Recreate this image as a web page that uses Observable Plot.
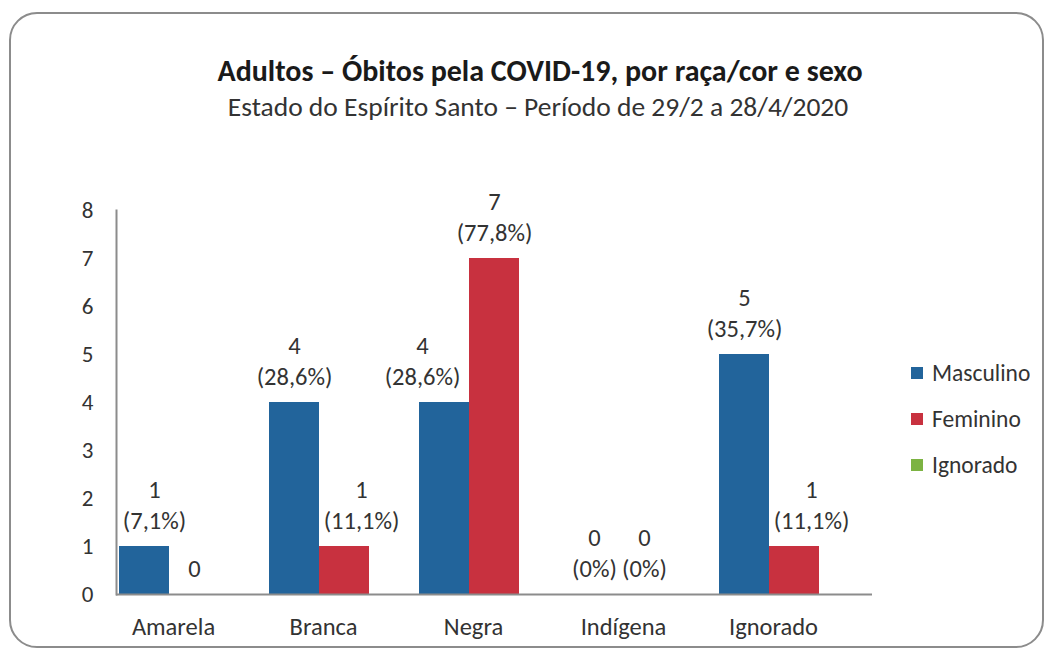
<!DOCTYPE html>
<html>
<head>
<meta charset="utf-8">
<script src="https://cdn.jsdelivr.net/npm/d3@7"></script>
<script src="https://cdn.jsdelivr.net/npm/@observablehq/plot@0.6"></script>
<style>
  body { margin: 0; background: #fff; font-family: Carlito, Lato, sans-serif; color: #333; }
  #wrap { position: relative; width: 1047px; height: 651px; overflow: hidden; background: #fff; }
  #border { position: absolute; left: 9px; top: 12px; width: 1035px; height: 636px; border: 2px solid #8c8c8c; border-radius: 28px; box-sizing: border-box; }
  #title { position: absolute; top: 53px; left: 0; width: 1080px; text-align: center; font-weight: bold; font-size: 30px; line-height: 36px; color: #1a1a1a; }
  #subtitle { position: absolute; top: 91px; left: 0; width: 1076px; text-align: center; font-size: 27.5px; line-height: 32px; color: #333; }
  #chart { position: absolute; left: 0; top: 170px; }
  #legend { position: absolute; left: 911px; top: 350px; }
  .lg-swatch { height: 45px; margin: 0 !important; font-size: 23.5px; color: #333; font-family: Carlito, Lato, sans-serif; }
  .lg-swatch svg { margin-right: 9px !important; }
</style>
</head>
<body>
<div id="wrap">
  <div id="border"></div>
  <div id="title">Adultos – Óbitos pela COVID-19, por raça/cor e sexo</div>
  <div id="subtitle">Estado do Espírito Santo – Período de 29/2 a 28/4/2020</div>
  <div id="chart"></div>
  <div id="legend"></div>
</div>
<script>
// ---- data ----
const categories = ["Amarela", "Branca", "Negra", "Indígena", "Ignorado"];
const series = ["Masculino", "Feminino", "Ignorado"];
const masculino = [1, 4, 4, 0, 5];
const feminino = [0, 1, 7, 0, 1];
const ignorado = [0, 0, 0, 0, 0];
const masculinoPct = ["7,1%", "28,6%", "28,6%", "0%", "35,7%"];
const femininoPct = [null, "11,1%", "77,8%", "0%", "11,1%"];
const yTicks = [0, 1, 2, 3, 4, 5, 6, 7, 8];

// ---- styles ----
const colors = ["#22649b", "#c8313f", "#7cb342"];
const labelNudge = { "Amarela|Masculino": 10, "Branca|Feminino": 17, "Negra|Masculino": -22, "Ignorado|Feminino": 17 };

const values = [masculino, feminino, ignorado];
const pcts = [masculinoPct, femininoPct, null];
const rows = [];
categories.forEach((c, i) => series.forEach((s, j) => {
  rows.push({ category: c, series: s, key: c + "|" + s, value: values[j][i],
    label: pcts[j] ? (pcts[j][i] == null ? String(values[j][i]) : values[j][i] + "\n(" + pcts[j][i] + ")") : null });
}));
const keys = rows.map(d => d.key);
const labelled = rows.filter(d => d.label != null);
const nudges = Array.from(new Set(labelled.map(d => labelNudge[d.key] || 0)));

const font = "Carlito, Lato, sans-serif";
const chart = Plot.plot({
  width: 1047,
  height: 470,
  marginTop: 40,
  marginBottom: 46,
  marginLeft: 116,
  marginRight: 175,
  style: { fontFamily: font, fontSize: "24px", color: "#333", background: "transparent" },
  x: { domain: keys, padding: 0, axis: null },
  y: { domain: [0, 8], axis: null },
  color: { domain: series, range: colors },
  marks: [
    Plot.barY(rows, { x: "key", y: "value", fill: "series" }),
    Plot.ruleY([0], { stroke: "#8c8c8c", strokeWidth: 2 }),
    Plot.axisY({ ticks: yTicks, tickSize: 0, tickPadding: 23, label: null, fontSize: 23, fill: "#333" }),
    Plot.frame({ anchor: "left", stroke: "#8c8c8c", strokeWidth: 2 }),
    Plot.text(categories, { x: c => c + "|Feminino", frameAnchor: "bottom", dy: 40, dx: -21, fill: "#333", fontSize: 24.5 }),
    ...nudges.map(n => Plot.text(labelled.filter(d => (labelNudge[d.key] || 0) === n), {
      x: "key", y: "value", text: "label", lineAnchor: "bottom", lineHeight: 1.25,
      dy: -18, dx: n, fill: "#333", fontSize: 24.5
    }))
  ]
});
document.getElementById("chart").appendChild(chart);

const legend = Plot.legend({
  color: { domain: series, range: colors },
  legend: "swatches", columns: 1, swatchSize: 12, className: "lg",
  style: { fontFamily: font, fontSize: "23.5px", color: "#333" }
});
document.getElementById("legend").appendChild(legend);
</script>
</body>
</html>
